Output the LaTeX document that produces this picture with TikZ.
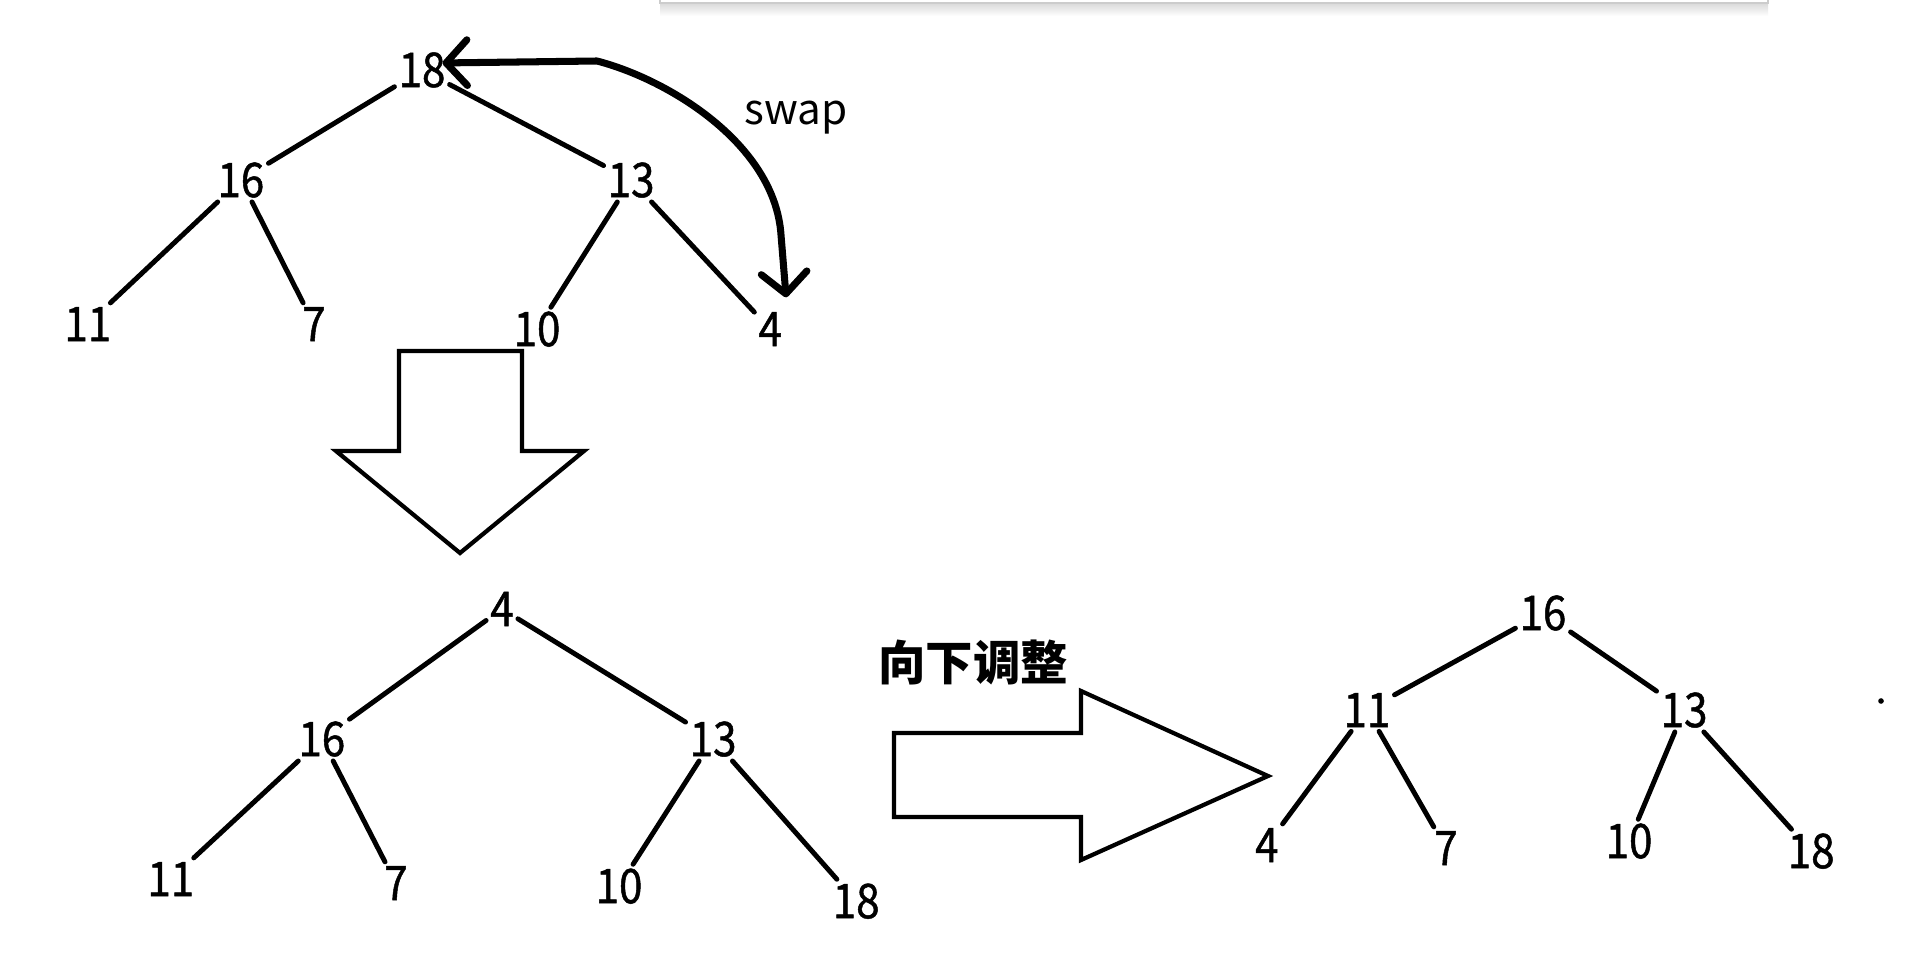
\documentclass[tikz,border=0pt]{standalone}
\usepackage{fontspec}
\setmainfont{Noto Sans CJK SC}
\newfontfamily\digitfont{Noto Sans CJK SC}[FakeStretch=0.88, FakeBold=1]
\usetikzlibrary{positioning, arrows.meta}

\begin{document}
\begin{tikzpicture}[
    x=0.01cm, y=-0.01cm, on grid,
    key/.style={inner sep=1pt, font=\digitfont\fontsize{13.6}{16}\selectfont},
    edge/.style={line width=1.4pt, line cap=round},
    swaparrow/.style={{Straight Barb[length=6pt, width=13pt, round]}-{Straight Barb[length=6pt, width=13pt, round]}, line width=2pt, line cap=round, line join=round},
    bigarrow/.style={draw, line width=1.2pt, line join=miter, fill=white}
]
    \useasboundingbox[fill=white] (0,0) rectangle (1910,961);
    \shade[top color=gray!30, bottom color=white] (660,3) rectangle (1768,16);
    \draw[gray!40, fill=white] (660,-5) rectangle (1768,3);

    \node[key] (t18) at (422,70) {18};
    \node[key] (t16) [below left=1.10cm and 1.81cm of t18] {16};
    \node[key] (t13) [below right=1.10cm and 2.09cm of t18] {13};
    \node[key] (t11) [below left=1.44cm and 1.53cm of t16] {11};
    \node[key] (t7) [below right=1.44cm and 0.73cm of t16] {7};
    \node[key] (t10) [below left=1.49cm and 0.94cm of t13] {10};
    \node[key] (t4) [below right=1.49cm and 1.39cm of t13] {4};
    \node[anchor=base, font=\fontsize{12}{14}\selectfont] (swaplbl) at (796,125) {swap};

    \draw[edge] (t18) -- (t16);
    \draw[edge] (t18) -- (t13);
    \draw[edge] (t16) -- (t11);
    \draw[edge] (t16) -- (t7);
    \draw[edge] (t13) -- (t10);
    \draw[edge] (t13) -- (t4);
    \draw[swaparrow] ([xshift=-2pt, yshift=2pt]t18.east) -- (597,61) .. controls (670,80) and (775,145) .. (781,235) -- ([yshift=3pt]t4.north east);

    \draw[bigarrow] (399,351) -- (522,351) -- (522,451) -- (584,451) -- (460,553) -- (336,451) -- (399,451) -- cycle;

    \node[key] (b4) at (502,609) {4};
    \node[key] (b16) [below left=1.30cm and 1.80cm of b4] {16};
    \node[key] (b13) [below right=1.30cm and 2.11cm of b4] {13};
    \node[key] (b11) [below left=1.40cm and 1.51cm of b16] {11};
    \node[key] (b7) [below right=1.44cm and 0.74cm of b16] {7};
    \node[key] (b10) [below left=1.47cm and 0.94cm of b13] {10};
    \node[key] (b18) [below right=1.62cm and 1.43cm of b13] {18};

    \draw[edge] (b4) -- (b16);
    \draw[edge] (b4) -- (b13);
    \draw[edge] (b16) -- (b11);
    \draw[edge] (b16) -- (b7);
    \draw[edge] (b13) -- (b10);
    \draw[edge] (b13) -- (b18);

    \node[font=\bfseries\fontsize{13.5}{16}\selectfont] (adjust) at (973,662) {向下调整};
    \draw[bigarrow] (894,733) -- (1081,733) -- (1081,691) -- (1268,776) -- (1081,860) -- (1081,817) -- (894,817) -- cycle;

    \node[key] (r16) at (1543,613) {16};
    \node[key] (r11) [below left=0.97cm and 1.76cm of r16] {11};
    \node[key] (r13) [below right=0.97cm and 1.41cm of r16] {13};
    \node[key] (r4) [below left=1.35cm and 1.00cm of r11] {4};
    \node[key] (r7) [below right=1.38cm and 0.79cm of r11] {7};
    \node[key] (r10) [below left=1.31cm and 0.55cm of r13] {10};
    \node[key] (r18) [below right=1.41cm and 1.27cm of r13] {18};

    \draw[edge] (r16) -- (r11);
    \draw[edge] (r16) -- (r13);
    \draw[edge] (r11) -- (r4);
    \draw[edge] (r11) -- (r7);
    \draw[edge] (r13) -- (r10);
    \draw[edge] (r13) -- (r18);

    \fill (1881,701) circle[radius=0.8pt];
\end{tikzpicture}
\end{document}
